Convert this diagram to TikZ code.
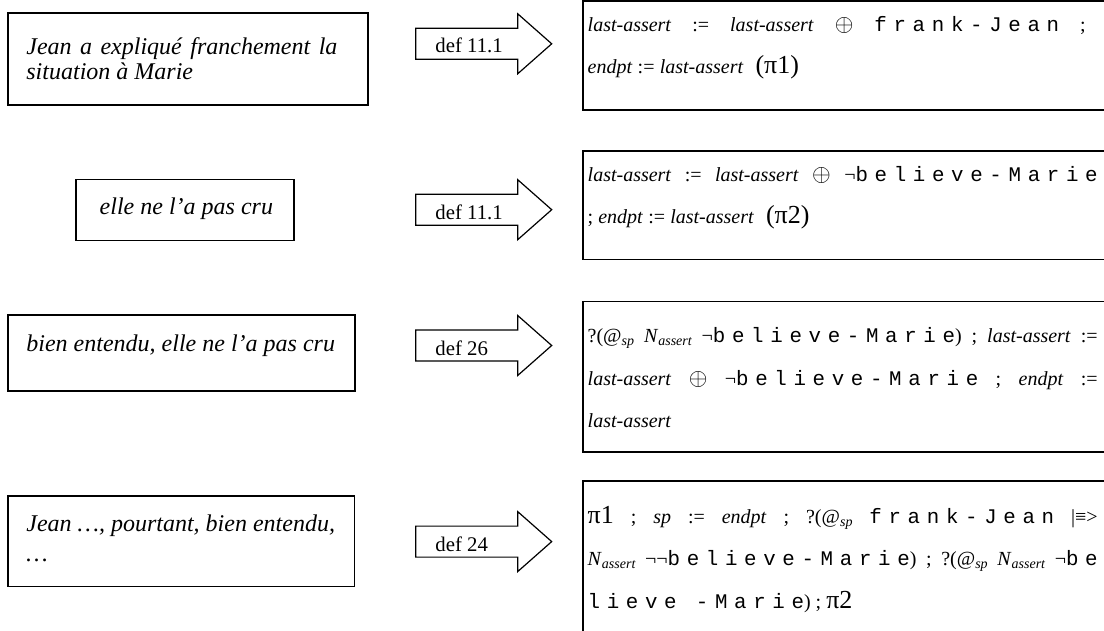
\documentclass[tikz,border=0pt]{standalone}
\usepackage{fontspec}
\setmainfont{Liberation Serif}
\newfontfamily\monof[LetterSpace=32]{Liberation Mono}
\newcommand\lfont{\fontsize{12pt}{14pt}\selectfont\itshape}
\newcommand\dfont{\fontsize{10.4pt}{12pt}\selectfont}
\newcommand\rfont{\fontsize{10pt}{11pt}\selectfont}
\newcommand\cw[1]{{\monof\fontsize{10.4pt}{11pt}\selectfont #1}}
\newcommand\sbs[1]{\raisebox{-0.35ex}{\fontsize{7pt}{7pt}\selectfont\itshape #1}}
\newcommand\bigp[1]{{\fontsize{13pt}{13pt}\selectfont #1}}
\newcommand\op{{\fontsize{12pt}{12pt}\selectfont$\oplus$}}
\newcommand\jl[1]{\hbox to 255pt{#1}}
\newcommand\jg{\hskip 2.5pt plus 1fil\relax}
\newcommand\darrow[1]{%
  \draw[arrowshape] (415.7,#1-15.5) -- (517.7,#1-15.5) -- (517.7,#1-30) -- (551.7,#1)
    -- (517.7,#1+30) -- (517.7,#1+15.5) -- (415.7,#1+15.5) -- cycle;}
\begin{document}
\begin{tikzpicture}[x=0.5pt,y=-0.5pt,
  boxline/.style={draw=black, line width=0.6pt},
  arrowshape/.style={draw=black, line width=0.6pt, line join=miter},
  lt/.style={anchor=base west, inner sep=0pt, font=\lfont},
  dl/.style={anchor=base west, inner sep=0pt, font=\dfont},
  rt/.style={anchor=base west, inner sep=0pt, font=\rfont}]
\useasboundingbox (0,0) rectangle (1104,631);
\begin{scope}
\clip (0,0) rectangle (1104,631);
% left boxes
\draw[boxline] (8,13) rectangle (368,105);
\draw[boxline] (76,179.3) rectangle (294,240.3);
\draw[boxline] (8,315) rectangle (355,391);
\draw[boxline] (8,496) rectangle (354.3,586.7);
% right boxes
\draw[boxline] (583,1) rectangle (1112,110);
\draw[boxline] (583,151) rectangle (1112,259.3);
\draw[boxline] (583,301.7) rectangle (1112,452);
\draw[boxline] (583,481) rectangle (1112,640);
% arrows
\darrow{43.8}
\darrow{209.7}
\darrow{345.5}
\darrow{541.6}
\end{scope}
% left texts
\node[lt] (s1a) at (26,54.3) {\hbox to 155.5pt{Jean\jg a\jg expliqué\jg franchement\jg la}};
\node[lt] (s1b) at (26,80) {situation à Marie};
\node[lt] (s2) at (99.3,214.3) {elle ne l’a pas cru};
\node[lt] (s3) at (26,351.7) {bien entendu, elle ne l’a pas cru};
\node[lt] (s4a) at (26,531.7) {Jean …, pourtant, bien entendu,};
\node[lt] (s4b) at (26,561.7) {…};
% arrow labels
\node[dl] (d1) at (435,53) {def 11.1};
\node[dl] (d2) at (435,220) {def 11.1};
\node[dl] (d3) at (435,355.7) {def 26};
\node[dl] (d4) at (435,551.7) {def 24};
% right texts
\node[rt] (r1a) at (587.3,31.7) {\jl{\textit{last-assert}\jg:=\jg\textit{last-assert}\jg\op\jg\cw{frank-Jean}\jg;\hspace*{6pt}}};
\node[rt] (r1b) at (587.3,74) {\textit{endpt}\hspace{2.6pt}:=\hspace{2.6pt}\textit{last-assert}\hspace{6pt}\bigp{(π1)}};
\node[rt] (r2a) at (587.3,181.7) {\jl{\textit{last-assert}\jg:=\jg\textit{last-assert}\jg\op\jg¬\cw{believe-Marie}}};
\node[rt] (r2b) at (587.3,224) {; \textit{endpt}\hspace{2.6pt}:=\hspace{2.6pt}\textit{last-assert}\hspace{6pt}\bigp{(π2)}};
\node[rt] (r3a) at (587.3,342.5) {\jl{?(@\sbs{sp}\jg\textit{N}\sbs{assert}\jg¬\cw{believe-Marie})\jg;\jg\textit{last-assert}\jg:=}};
\node[rt] (r3b) at (587.3,385) {\jl{\textit{last-assert}\jg\op\jg¬\cw{believe-Marie}\jg;\jg\textit{endpt}\jg:=}};
\node[rt] (r3c) at (587.3,427) {\textit{last-assert}};
\node[rt] (r4a) at (587.3,523) {\jl{\bigp{π1}\jg;\jg\textit{sp}\jg:=\jg\textit{endpt}\jg;\jg?(@\sbs{sp}\jg\cw{frank-Jean}\jg|≡>}};
\node[rt] (r4b) at (587.3,565) {\jl{\textit{N}\sbs{assert}\jg¬¬\cw{believe-Marie})\jg;\jg?(@\sbs{sp}\jg\textit{N}\sbs{assert}\jg¬\cw{be}}};
\node[rt] (r4c) at (587.3,608) {\cw{lieve -Marie})\hspace{2.5pt};\hspace{2.5pt}\bigp{π2}};
\end{tikzpicture}
\end{document}
